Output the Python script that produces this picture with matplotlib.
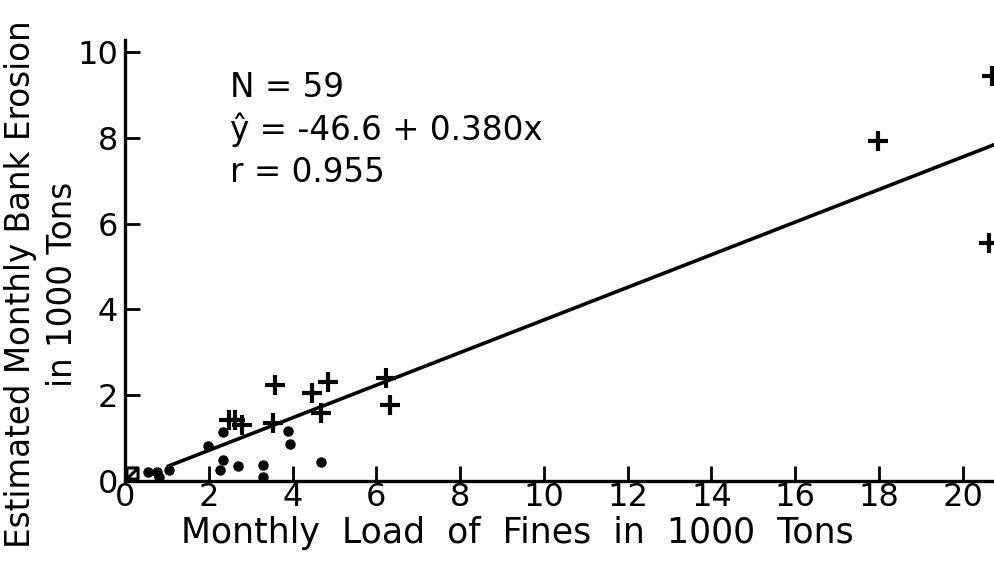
import numpy as np
import matplotlib.pyplot as plt
import matplotlib as mpl
from matplotlib.path import Path

mpl.rcParams.update({
    "font.family": "DejaVu Sans",
    "figure.dpi": 100,
})

# Monthly load of fines (x) vs estimated bank erosion (y), both in 1000 tons
DOT_X = [0.56, 0.76, 0.80, 1.05, 1.97, 2.35, 2.35, 2.27, 2.70, 3.30, 3.30, 3.90, 3.94, 4.69]
DOT_Y = [0.22, 0.22, 0.10, 0.25, 0.81, 1.15, 0.49, 0.25, 0.34, 0.37, 0.10, 1.17, 0.86, 0.45]

PLUS_X = [2.48, 2.62, 2.80, 3.54, 3.58, 4.46, 4.69, 4.85, 6.24, 6.32, 17.98, 20.62, 20.70]
PLUS_Y = [1.42, 1.42, 1.30, 1.34, 2.24, 2.04, 1.58, 2.31, 2.39, 1.77, 7.93, 5.54, 9.44]

# cluster of overlapping points at the origin
CLUSTER_X = [0.17]
CLUSTER_Y = [0.18]

N_OBS = 59
INTERCEPT = -46.6   # tons
SLOPE = 0.380
R_VALUE = 0.955
FIT_RANGE = [1.0, 21.0]

XTICKS = [0, 2, 4, 6, 8, 10, 12, 14, 16, 18, 20]
YTICKS = [0, 2, 4, 6, 8, 10]

# square with a diagonal, used for the origin cluster
box_marker = Path(
    [(-1, -1), (1, -1), (1, 1), (-1, 1), (-1, -1), (1, 1)],
    [Path.MOVETO, Path.LINETO, Path.LINETO, Path.LINETO, Path.LINETO, Path.LINETO],
)

fig = plt.figure(figsize=(9.94, 5.69))
ax = fig.add_axes([0.1258, 0.1547, 0.8742, 0.775])

fx = np.array(FIT_RANGE)
ax.plot(fx, INTERCEPT / 1000 + SLOPE * fx, color="black", lw=2.6, solid_capstyle="butt")

ax.plot(DOT_X, DOT_Y, "o", color="black", ms=6.5, clip_on=False)
ax.plot(PLUS_X, PLUS_Y, "+", color="black", ms=15, mew=3.0)
ax.plot(CLUSTER_X, CLUSTER_Y, marker=box_marker, color="black", ms=8,
        mew=2.2, mfc="none", ls="none", clip_on=False)

ax.set_xlim(0, 20.75)
ax.set_ylim(0, 10.28)
ax.set_xticks(XTICKS)
ax.set_yticks(YTICKS)
ax.tick_params(direction="in", length=11, width=2, labelsize=23, pad=1)
ax.tick_params(axis="y", pad=5)

for side in ("top", "right"):
    ax.spines[side].set_visible(False)
for side in ("left", "bottom"):
    ax.spines[side].set_linewidth(2.4)

ax.set_xlabel("Monthly  Load  of  Fines  in  1000  Tons", fontsize=25)
ax.xaxis.set_label_coords(0.451, -0.08)
fig.text(0.021, 0.50, "Estimated Monthly Bank Erosion", rotation=90,
         ha="center", va="center", fontsize=23.5)
fig.text(0.063, 0.50, "in 1000 Tons", rotation=90,
         ha="center", va="center", fontsize=23.5)

stats = [f"N = {N_OBS}", f"ŷ = {INTERCEPT} + {SLOPE:.3f}x", f"r = {R_VALUE}"]
for i, s in enumerate(stats):
    ax.text(2.5, 9.18 - i * 1.0, s, fontsize=23.5, va="center", ha="left")

fig.savefig("out.png", dpi=100)
